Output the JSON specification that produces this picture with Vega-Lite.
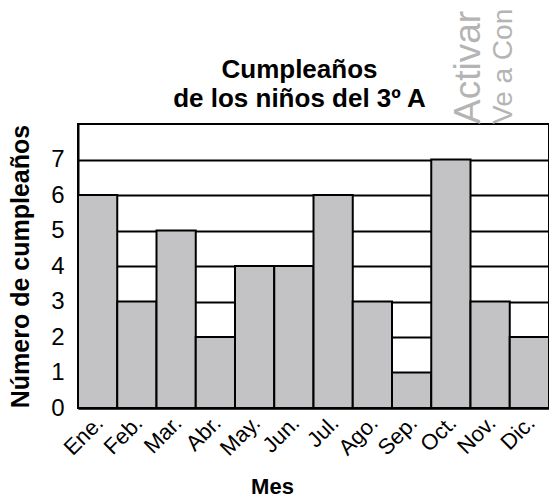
{
  "$schema": "https://vega.github.io/schema/vega-lite/v6.json",
  "width": 471,
  "height": 284,
  "autosize": {"type": "none"},
  "padding": {"left": 78, "top": 124, "right": 0, "bottom": 93},
  "background": "white",
  "config": {
    "font": "Liberation Sans",
    "view": {"stroke": "black", "strokeWidth": 2}
  },
  "title": {
    "text": ["Cumpleaños", "de los niños del 3º A"],
    "fontSize": 26,
    "fontWeight": "bold",
    "font": "Liberation Sans",
    "color": "black",
    "lineHeight": 29,
    "offset": -103,
    "frame": "group",
    "dx": -14,
    "anchor": "middle"
  },
  "datasets": {
    "cumple": [
      {"mes": "Ene.", "n": 6},
      {"mes": "Feb.", "n": 3},
      {"mes": "Mar.", "n": 5},
      {"mes": "Abr.", "n": 2},
      {"mes": "May.", "n": 4},
      {"mes": "Jun.", "n": 4},
      {"mes": "Jul.", "n": 6},
      {"mes": "Ago.", "n": 3},
      {"mes": "Sep.", "n": 1},
      {"mes": "Oct.", "n": 7},
      {"mes": "Nov.", "n": 3},
      {"mes": "Dic.", "n": 2}
    ],
    "marca1": [{"mes": "Oct.", "texto": "Activar", "y": 8}],
    "marca2": [{"mes": "Nov.", "texto": "Ve a Con", "y": 8}]
  },
  "layer": [
    {
      "data": {"name": "cumple"},
      "mark": {"type": "bar", "fill": "#c3c3c5", "stroke": "black", "strokeWidth": 2},
      "encoding": {
        "x": {
          "field": "mes",
          "type": "nominal",
          "sort": ["Ene.", "Feb.", "Mar.", "Abr.", "May.", "Jun.", "Jul.", "Ago.", "Sep.", "Oct.", "Nov.", "Dic."],
          "scale": {"paddingInner": 0, "paddingOuter": 0},
          "axis": {
            "title": "Mes",
            "titleFontSize": 22,
            "titleFontWeight": "bold",
            "titleColor": "black",
            "titleX": 194,
            "titleY": 68,
            "labelAngle": -45,
            "labelAlign": "right",
            "labelBaseline": "top",
            "labelOffset": -5,
            "labelPadding": 4,
            "labelFontSize": 22,
            "labelColor": "black",
            "ticks": false,
            "domainColor": "black",
            "domainWidth": 2
          }
        },
        "y": {
          "field": "n",
          "type": "quantitative",
          "scale": {"domain": [0, 8], "nice": false},
          "axis": {
            "title": "Número de cumpleaños",
            "titleFontSize": 25,
            "titleFontWeight": "bold",
            "titleColor": "black",
            "titleX": -45,
            "values": [0, 1, 2, 3, 4, 5, 6, 7],
            "labelFontSize": 24,
            "labelColor": "black",
            "labelPadding": 14,
            "ticks": false,
            "grid": true,
            "gridColor": "black",
            "gridWidth": 2,
            "gridOpacity": 1,
            "domainColor": "black",
            "domainWidth": 2
          }
        }
      }
    },
    {
      "data": {"name": "marca1"},
      "mark": {"type": "text", "angle": 270, "align": "left", "baseline": "top", "fontSize": 37, "color": "#b4b4b4", "font": "Liberation Sans"},
      "encoding": {
        "x": {"field": "mes", "type": "nominal", "sort": ["Ene.", "Feb.", "Mar.", "Abr.", "May.", "Jun.", "Jul.", "Ago.", "Sep.", "Oct.", "Nov.", "Dic."]},
        "y": {"field": "y", "type": "quantitative"},
        "text": {"field": "texto"}
      }
    },
    {
      "data": {"name": "marca2"},
      "mark": {"type": "text", "angle": 270, "align": "left", "baseline": "top", "fontSize": 28, "color": "#b4b4b4", "font": "Liberation Sans"},
      "encoding": {
        "x": {"field": "mes", "type": "nominal", "sort": ["Ene.", "Feb.", "Mar.", "Abr.", "May.", "Jun.", "Jul.", "Ago.", "Sep.", "Oct.", "Nov.", "Dic."]},
        "y": {"field": "y", "type": "quantitative"},
        "text": {"field": "texto"}
      }
    }
  ]
}
